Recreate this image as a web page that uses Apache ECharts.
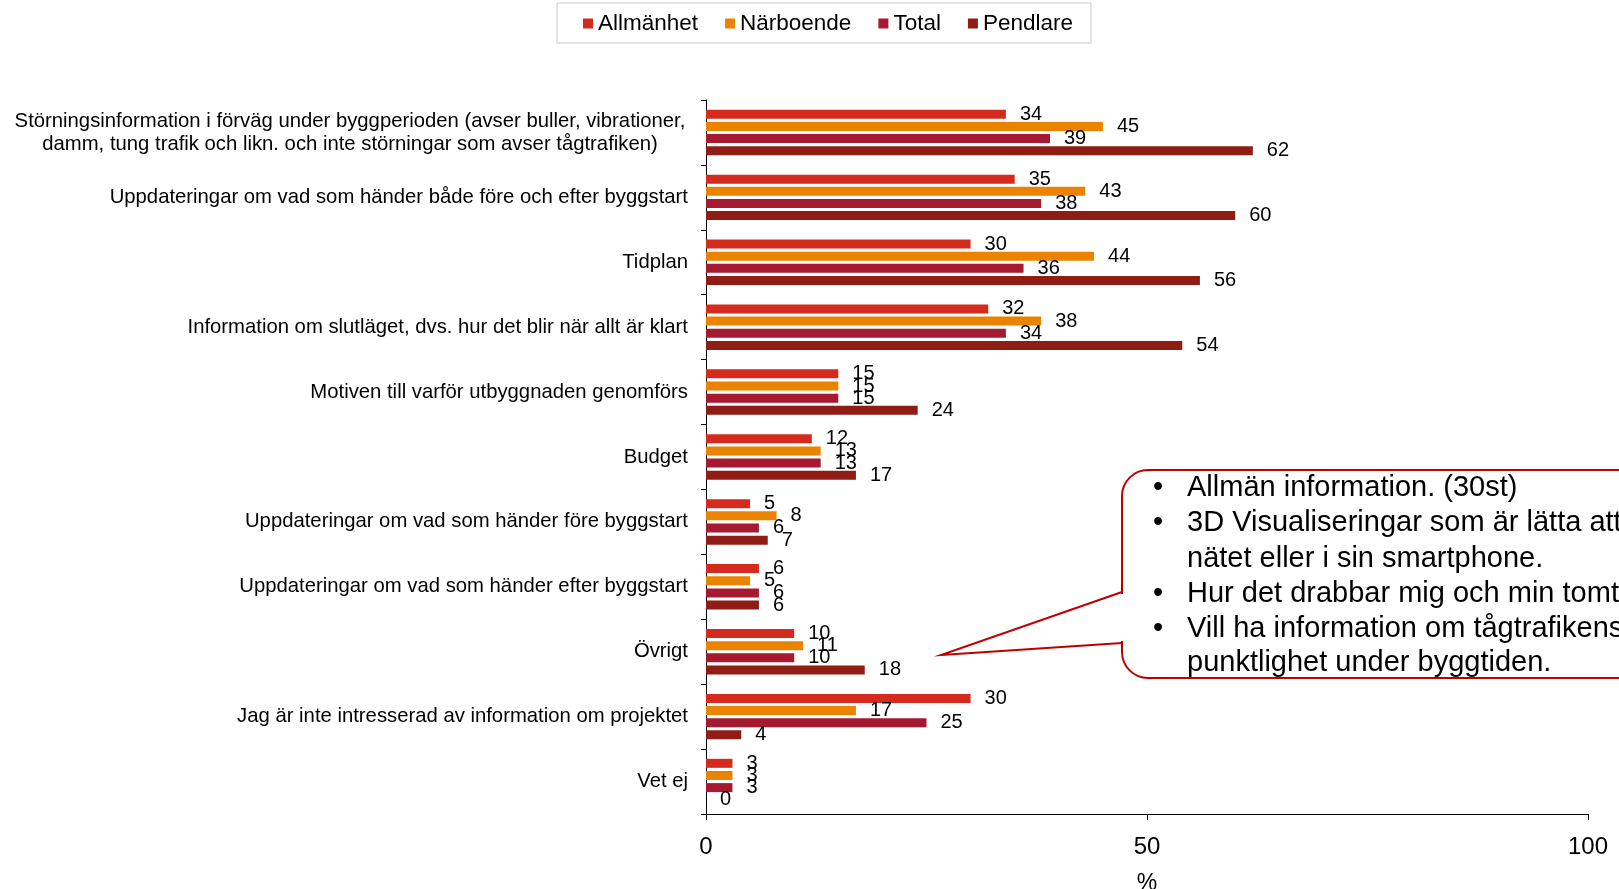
<!DOCTYPE html>
<html>
<head>
<meta charset="utf-8">
<script src="https://cdn.jsdelivr.net/npm/echarts@6/dist/echarts.min.js"></script>
<style>
  html, body { margin: 0; padding: 0; background: #fff; }
  #main1 { width: 1619px; height: 889px; }
</style>
</head>
<body>
<div id="main1"></div>
<script>
var categories = [
  'Störningsinformation i förväg under byggperioden (avser buller, vibrationer,\ndamm, tung trafik och likn. och inte störningar som avser tågtrafiken)',
  'Uppdateringar om vad som händer både före och efter byggstart',
  'Tidplan',
  'Information om slutläget, dvs. hur det blir när allt är klart',
  'Motiven till varför utbyggnaden genomförs',
  'Budget',
  'Uppdateringar om vad som händer före byggstart',
  'Uppdateringar om vad som händer efter byggstart',
  'Övrigt',
  'Jag är inte intresserad av information om projektet',
  'Vet ej'
];
var allmanhet = [34, 35, 30, 32, 15, 12, 5, 6, 10, 30, 3];
var narboende = [45, 43, 44, 38, 15, 13, 8, 5, 11, 17, 3];
var total     = [39, 38, 36, 34, 15, 13, 6, 6, 10, 25, 3];
var pendlare  = [62, 60, 56, 54, 24, 17, 7, 6, 18, 4, 0];
var xTicks = [0, 50, 100];
var calloutLines = [
  { bullet: true,  text: 'Allmän information. (30st)' },
  { bullet: true,  text: '3D Visualiseringar som är lätta att' },
  { bullet: false, text: 'nätet eller i sin smartphone.' },
  { bullet: true,  text: 'Hur det drabbar mig och min tomt' },
  { bullet: true,  text: 'Vill ha information om tågtrafikens' },
  { bullet: false, text: 'punktlighet under byggtiden.' }
];

var FONT = "'Liberation Sans', Arial, sans-serif";
var RED = '#C00000';

var myChart = echarts.init(document.getElementById('main1'));

function makeSeries(name, data, color) {
  return {
    name: name,
    type: 'bar',
    barWidth: 9,
    barGap: '35%',
    itemStyle: { color: color },
    label: {
      show: true,
      position: 'right',
      distance: 14,
      color: '#000',
      fontFamily: FONT,
      fontSize: 20
    },
    data: data
  };
}

// callout box (text bubble pointing at "Övrigt")
var graphics = [
  {
    type: 'rect',
    z: 100,
    shape: { x: 1122, y: 470, width: 600, height: 208, r: 26 },
    style: { fill: '#fff', stroke: RED, lineWidth: 2 }
  },
  {
    type: 'line',
    z: 101,
    shape: { x1: 1122, y1: 594, x2: 1122, y2: 641 },
    style: { stroke: '#fff', lineWidth: 4 }
  },
  {
    type: 'polyline',
    z: 102,
    shape: { points: [[1122, 592], [941, 655], [1122, 643]] },
    style: { stroke: RED, lineWidth: 2, fill: null }
  }
];
var lineY = [488, 523, 559, 594, 629, 663];
calloutLines.forEach(function (l, i) {
  if (l.bullet) {
    graphics.push({
      type: 'text', z: 103, x: 1153, y: lineY[i],
      style: { text: '•', fill: '#000', font: '29px ' + FONT, textVerticalAlign: 'middle' }
    });
  }
  graphics.push({
    type: 'text', z: 103, x: 1187, y: lineY[i],
    style: { text: l.text, fill: '#000', font: '29px ' + FONT, textVerticalAlign: 'middle' }
  });
});

var option = {
  backgroundColor: '#fff',
  animation: false,
  textStyle: { fontFamily: FONT },
  legend: {
    data: ['Allmänhet', 'Närboende', 'Total', 'Pendlare'],
    left: 557,
    top: 3,
    icon: 'rect',
    itemWidth: 10,
    itemHeight: 10,
    itemGap: 27,
    padding: [9, 18, 8, 26],
    borderColor: '#c8c8c8',
    borderWidth: 1,
    textStyle: { color: '#000', fontSize: 22.5, fontFamily: FONT }
  },
  grid: {
    left: 706,
    right: 31,
    top: 100,
    bottom: 75,
    outerBoundsMode: 'none'
  },
  xAxis: {
    type: 'value',
    min: xTicks[0],
    max: xTicks[xTicks.length - 1],
    interval: xTicks[1] - xTicks[0],
    name: '%',
    nameLocation: 'middle',
    nameGap: 58,
    nameTextStyle: { color: '#000', fontSize: 23, fontFamily: FONT },
    axisLine: { show: true, lineStyle: { color: '#000', width: 1 } },
    axisTick: { show: true, length: 6, lineStyle: { color: '#000' } },
    axisLabel: { color: '#000', fontSize: 24, margin: 21, fontFamily: FONT },
    splitLine: { show: false }
  },
  yAxis: {
    type: 'category',
    inverse: true,
    data: categories,
    axisLine: { show: true, lineStyle: { color: '#000', width: 1 } },
    axisTick: { show: true, length: 5, lineStyle: { color: '#000' } },
    axisLabel: {
      color: '#000',
      fontSize: 20.3,
      margin: 18,
      fontFamily: FONT,
      formatter: function (v) {
        if (v.indexOf('\n') < 0) return v;
        return v.split('\n').map(function (s) { return '{c|' + s + '}'; }).join('\n');
      },
      rich: {
        c: { width: 676, align: 'center', fontSize: 20.3, lineHeight: 23, color: '#000', fontFamily: FONT }
      }
    }
  },
  graphic: graphics,
  series: [
    makeSeries('Allmänhet', allmanhet, '#D52B1E'),
    makeSeries('Närboende', narboende, '#E98300'),
    makeSeries('Total', total, '#A51931'),
    makeSeries('Pendlare', pendlare, '#8F1C15')
  ]
};
myChart.setOption(option);
</script>
</body>
</html>
